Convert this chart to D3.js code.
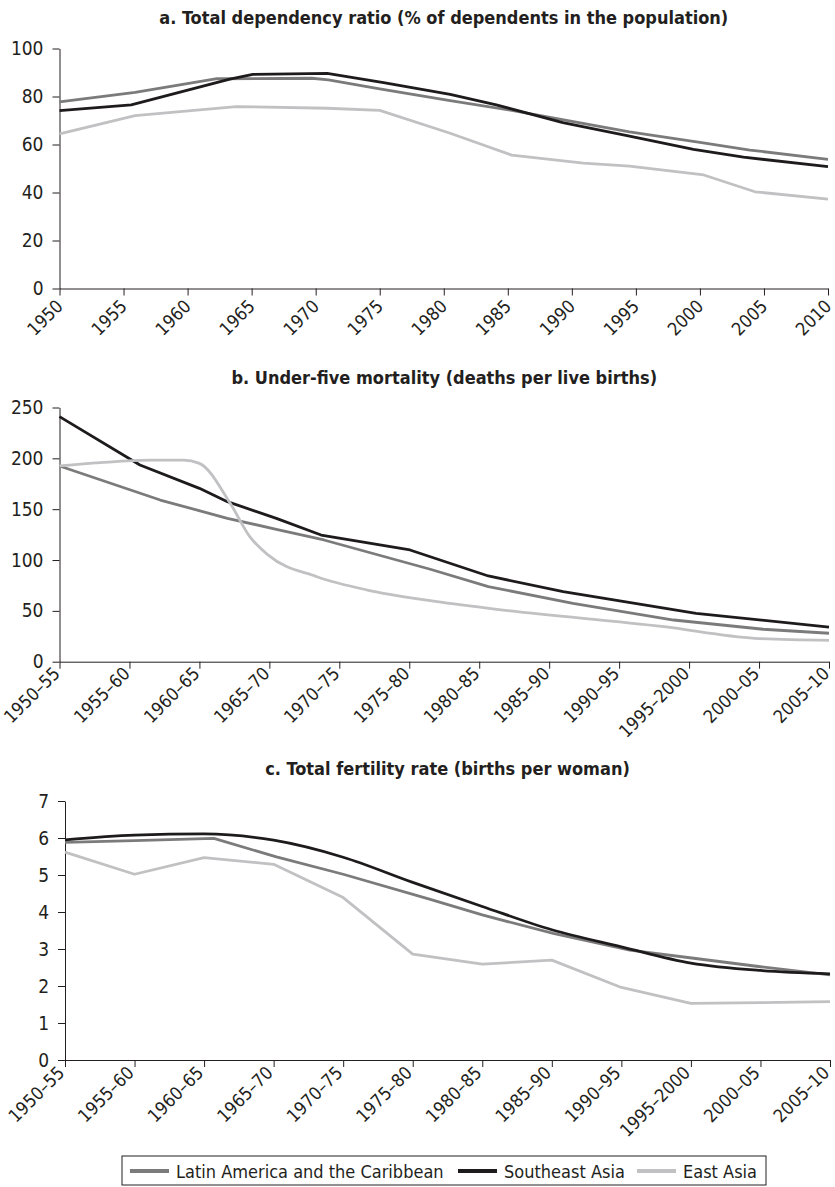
<!DOCTYPE html>
<html><head><meta charset="utf-8">
<script src="https://cdn.jsdelivr.net/npm/d3@7"></script>
<style>
body{margin:0;background:#fff;}
svg{display:block;}
text{font-family:"DejaVu Sans Condensed","DejaVu Sans",sans-serif;font-stretch:condensed;fill:#231f20;}
</style></head>
<body>
<svg id="chart" width="835" height="1187"></svg>
<script>
// ---------- data ----------
const seriesNames = ["Latin America and the Caribbean", "Southeast Asia", "East Asia"];

const titleA = "a. Total dependency ratio (% of dependents in the population)";
const titleB = "b. Under-five mortality (deaths per live births)";
const titleC = "c. Total fertility rate (births per woman)";

const yearTicksA = [1950,1955,1960,1965,1970,1975,1980,1985,1990,1995,2000,2005,2010];
const periodTicks = [1950,1955,1960,1965,1970,1975,1980,1985,1990,1995,2000,2005];
const periodLabels = ["1950–55","1955–60","1960–65","1965–70","1970–75","1975–80","1980–85","1985–90","1990–95","1995–2000","2000–05","2005–10"];

const yTicksA = [0,20,40,60,80,100];
const yTicksB = [0,50,100,150,200,250];
const yTicksC = [0,1,2,3,4,5,6,7];

// a. dependency ratio  [year, value]
const depLatin = [[1950,77.8],[1955.9,81.7],[1962.3,87.4],[1969.7,87.6],[1971,86.9],[1975,83.2],[1980.5,78.3],[1985.2,74.3],[1994.5,65.3],[2000,60.9],[2003.9,57.7],[2010,53.8]];
const depSEAsia = [[1950,74.1],[1955.6,76.5],[1963.3,87.2],[1965.1,89.2],[1970.9,89.6],[1975.3,85.8],[1980.5,80.9],[1984.1,76.5],[1989.3,69.1],[1994.5,63.5],[1999.5,58.0],[2003.4,54.7],[2010,50.8]];
const depEast = [[1950,64.4],[1955.9,72.0],[1963.8,75.8],[1970.9,75.1],[1975,74.2],[1980.5,64.7],[1985.3,55.6],[1990.9,52.2],[1994.5,51.0],[2000.3,47.3],[2004.3,40.3],[2010,37.2]];

// b. under-five mortality  [period start, value]
const mortLatin = [[1950,192.5],[1957.2,159],[1962,141],[1965.5,130.2],[1968.9,119.7],[1976.5,90.9],[1980.65,73.8],[1986.7,57.4],[1993.9,41],[2000.3,31.9],[2005,28]];
const mortSEAsia = [[1950,241],[1955.75,193.5],[1960,170.5],[1962,157.4],[1965.5,141],[1968.7,124.6],[1975.05,109.9],[1980.65,84.3],[1986,68.9],[1995.5,47.6],[2005,34]];
const mortEast = [[1950,192.5],[1952.9,195.7],[1956.5,198.2],[1958.85,198.2],[1960,195.1],[1962.2,155.8],[1963.6,123],[1964.9,105],[1968.4,83.6],[1972,70.5],[1976.5,60],[1981.25,51.5],[1993.2,34.4],[1999.7,23],[2005,21]];

// c. total fertility rate  [period start, value]
const fertLatin = [[1950,5.88],[1955,5.93],[1960.7,5.99],[1965.2,5.49],[1970,5.02],[1976.2,4.35],[1980,3.92],[1985.1,3.42],[1990.6,2.97],[1995.2,2.75],[2000,2.52],[2005,2.30]];
const fertSEAsia = [[1950,5.95],[1955,6.08],[1960,6.11],[1965,5.94],[1970,5.48],[1975,4.8],[1980,4.15],[1985,3.52],[1990,3.06],[1995,2.62],[2000,2.42],[2005,2.33]];
const fertEast = [[1950,5.62],[1955,5.02],[1960,5.47],[1965,5.29],[1970,4.39],[1975,2.86],[1980,2.59],[1985,2.70],[1990,1.96],[1995,1.53],[2000,1.55],[2005,1.58]];

// ---------- styles ----------
const colors = ["#7b7b7b", "#1e1b1c", "#c1c1c3"];
const lineW = 2.8;
const YFONT = 19;
const XFONT = 18;

const svg = d3.select("#chart");

function panel(cfg) {
  const x = d3.scaleLinear().domain(cfg.xDomain).range(cfg.xRange);
  const y = d3.scaleLinear().domain(cfg.yDomain).range(cfg.yRange);
  const g = svg.append("g");

  g.append("text")
    .attr("x", (cfg.xRange[0] + cfg.xRange[1]) / 2)
    .attr("y", cfg.titleY)
    .attr("text-anchor", "middle")
    .style("font-weight", "bold")
    .style("font-size", "18px")
    .text(cfg.title);

  const ya = g.append("g")
    .attr("transform", `translate(${cfg.xRange[0]},0)`)
    .call(d3.axisLeft(y).tickValues(cfg.yTicks).tickFormat(d3.format("d")).tickSize(7).tickSizeOuter(0).tickPadding(9));
  ya.selectAll("text").style("font-size", YFONT + "px").attr("fill", "#231f20");
  ya.selectAll("line,path").attr("stroke", "#231f20");

  const xa = g.append("g")
    .attr("transform", `translate(0,${cfg.yRange[0]})`)
    .call(d3.axisBottom(x).tickValues(cfg.xTicks).tickSize(7).tickSizeOuter(0).tickFormat((d, i) => cfg.xLabels[i]));
  xa.selectAll("line,path").attr("stroke", "#231f20");
  xa.selectAll("text")
    .style("font-size", XFONT + "px")
    .attr("text-anchor", "end")
    .attr("y", 0).attr("dy", 0)
    .attr("transform", `translate(${cfg.lblDx},${cfg.lblDy}) rotate(-45)`);

  cfg.series.forEach((s, i) => {
    const line = d3.line()
      .x(d => x(d[0])).y(d => y(d[1]))
      .curve(cfg.curves && cfg.curves[i] ? cfg.curves[i] : d3.curveLinear);
    g.append("path")
      .datum(s)
      .attr("fill", "none")
      .attr("stroke", colors[i])
      .attr("stroke-width", lineW)
      .attr("stroke-linejoin", "round")
      .attr("d", line);
  });
}

panel({
  title: titleA, titleY: 24,
  xDomain: [1950, 2010], xRange: [59.5, 828],
  yDomain: [0, 100], yRange: [288.5, 48.5],
  yTicks: yTicksA, xTicks: yearTicksA, xLabels: yearTicksA.map(String),
  lblDx: 4, lblDy: 19,
  series: [depLatin, depSEAsia, depEast]
});

panel({
  title: titleB, titleY: 384,
  xDomain: [1950, 2005], xRange: [59.5, 829],
  yDomain: [0, 250], yRange: [661.7, 407.5],
  yTicks: yTicksB, xTicks: periodTicks, xLabels: periodLabels,
  lblDx: 1, lblDy: 13,
  series: [mortLatin, mortSEAsia, mortEast],
  curves: [null, null, d3.curveMonotoneX]
});

panel({
  title: titleC, titleY: 775,
  xDomain: [1950, 2005], xRange: [65, 830],
  yDomain: [0, 7], yRange: [1060, 801],
  yTicks: yTicksC, xTicks: periodTicks, xLabels: periodLabels,
  lblDx: 0, lblDy: 14,
  series: [fertLatin, fertSEAsia, fertEast],
  curves: [null, d3.curveMonotoneX, null]
});

// legend
const leg = svg.append("g");
leg.append("rect")
  .attr("x", 122).attr("y", 1156).attr("width", 644).attr("height", 29)
  .attr("fill", "none").attr("stroke", "#231f20").attr("stroke-width", 1);
const legX = [130, 458, 637];
seriesNames.forEach((n, i) => {
  leg.append("line")
    .attr("x1", legX[i]).attr("x2", legX[i] + 39)
    .attr("y1", 1171).attr("y2", 1171)
    .attr("stroke", colors[i]).attr("stroke-width", 4);
  leg.append("text")
    .attr("x", legX[i] + 46).attr("y", 1177.5)
    .style("font-size", "18px")
    .text(n);
});
</script>
</body></html>
